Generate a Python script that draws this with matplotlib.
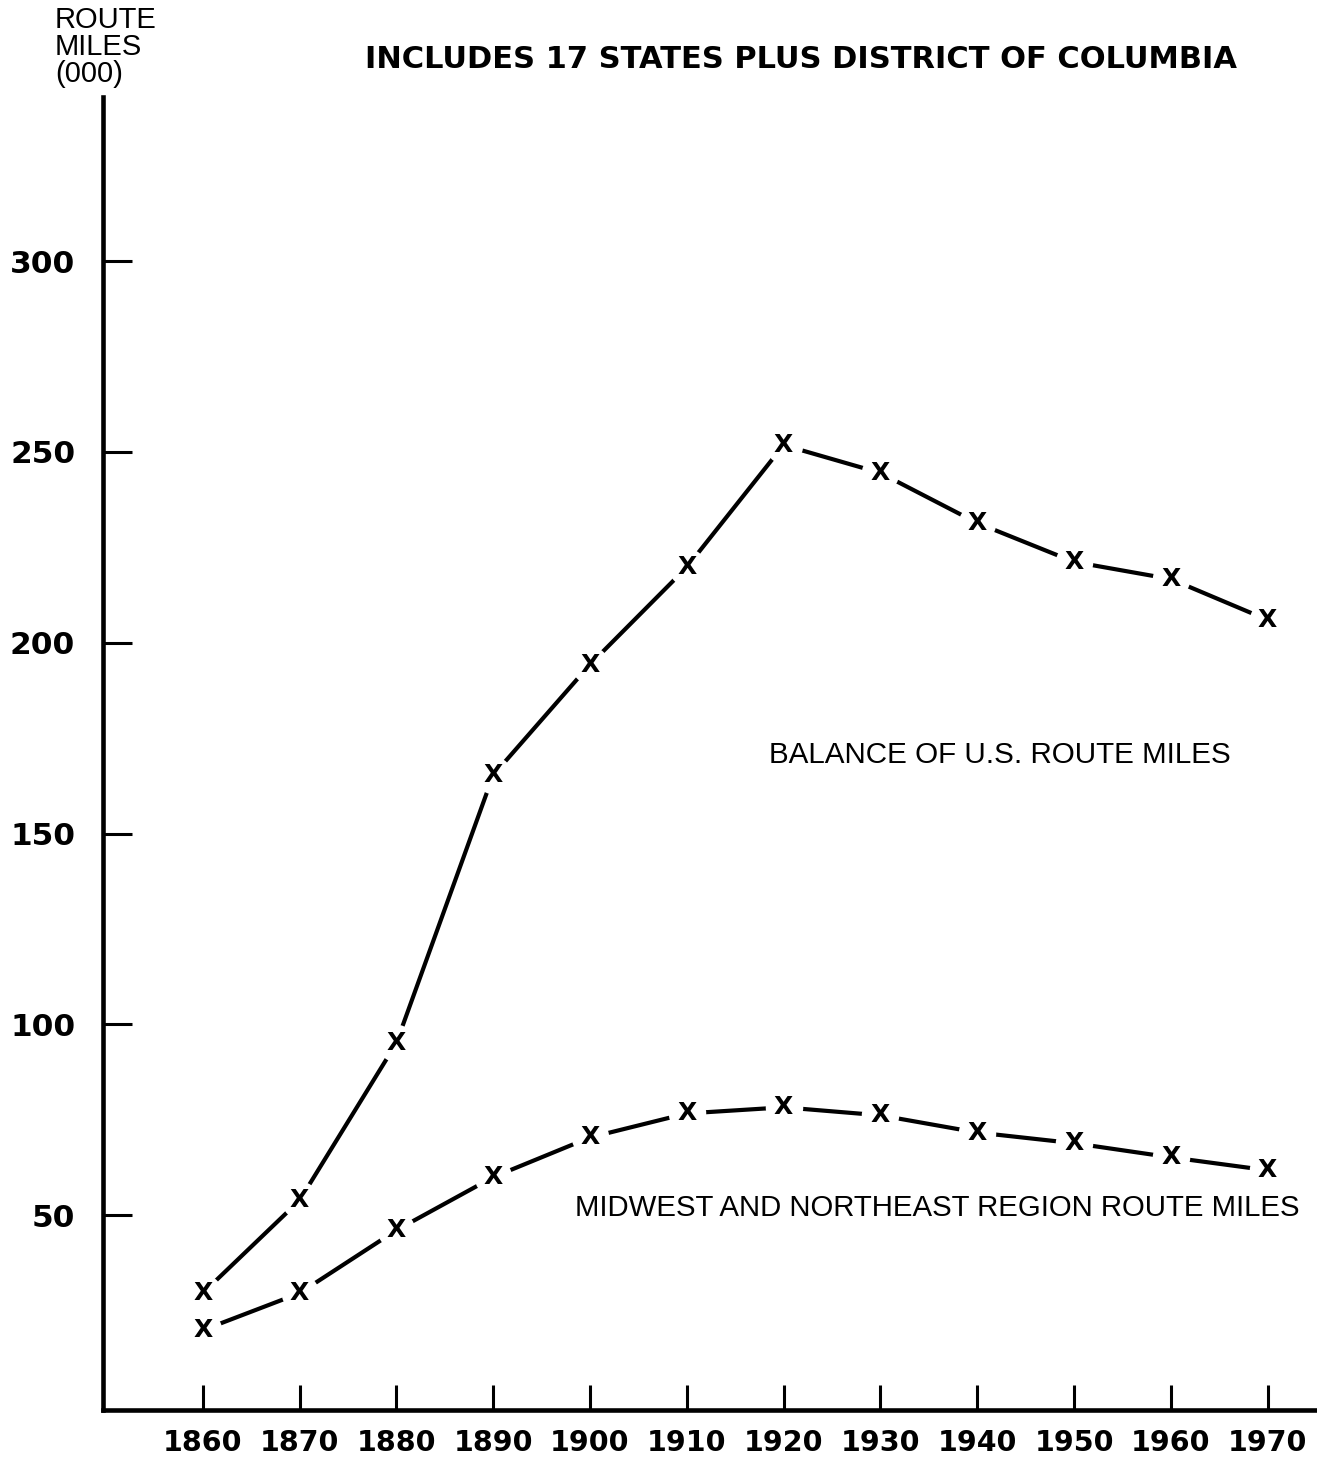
import matplotlib
matplotlib.use("Agg")
import matplotlib.pyplot as plt

# Route miles (thousands)
years    = [1860, 1870, 1880, 1890, 1900, 1910, 1920, 1930, 1940, 1950, 1960, 1970]
balance  = [29.6, 53.9, 95.1, 165.3, 194.3, 219.8, 251.8, 244.5, 231.4, 221.2, 216.7, 206.0]
midwest  = [19.9, 29.6, 46.1, 60.0, 70.4, 76.7, 78.3, 76.2, 71.7, 68.9, 65.2, 61.8]
yticks   = [50, 100, 150, 200, 250, 300]

fig = plt.figure(figsize=(13.17, 14.58), dpi=100)
ax = fig.add_axes([103 / 1317, 1 - 1410 / 1458, 1 - 103 / 1317, (1410 - 97) / 1458])

# lines first, then white discs to open a gap, then the "X" marks on top
for s in (balance, midwest):
    ax.plot(years, s, color="black", lw=3.0, solid_capstyle="butt", zorder=2)
for s in (balance, midwest):
    ax.plot(years, s, ls="none", marker="o", ms=27, mfc="white", mec="none", zorder=3)
for s in (balance, midwest):
    for x, y in zip(years, s):
        ax.text(x, y, "X", ha="center", va="center", fontsize=18, fontweight="bold",
                family="DejaVu Sans", zorder=4)

ax.set_xlim(1849.7, 1975.1)
ax.set_ylim(-1, 343)
for side in ("top", "right"):
    ax.spines[side].set_visible(False)
for side in ("left", "bottom"):
    ax.spines[side].set_linewidth(3.3)

ax.set_xticks(years)
ax.set_xticklabels([str(y) for y in years])
ax.set_yticks(yticks)
ax.set_yticklabels([str(v) for v in yticks])
ax.tick_params(axis="x", direction="in", length=18, width=2.2, pad=14, labelsize=20.5)
ax.tick_params(axis="y", direction="in", length=21, width=2.2, pad=20, labelsize=22.5)
for lab in ax.get_xticklabels() + ax.get_yticklabels():
    lab.set_fontweight("bold")
    lab.set_family("DejaVu Sans")

ax.text(1918.5, 170.5, "BALANCE OF U.S. ROUTE MILES", fontsize=21.3,
        family="Liberation Sans", va="center", ha="left")
ax.text(1898.5, 51.8, "MIDWEST AND NORTHEAST REGION ROUTE MILES", fontsize=21.2,
        family="Liberation Sans", va="center", ha="left")

fig.text(801 / 1317, 1 - 60 / 1458, "INCLUDES 17 STATES PLUS DISTRICT OF COLUMBIA",
         fontsize=22, fontweight="bold", family="DejaVu Sans", ha="center", va="center")
fig.text(55 / 1317, 1 - 6 / 1458, "ROUTE\nMILES\n(000)", fontsize=21,
         family="Liberation Sans", ha="left", va="top", linespacing=0.95)

fig.savefig("out.png", dpi=100)
